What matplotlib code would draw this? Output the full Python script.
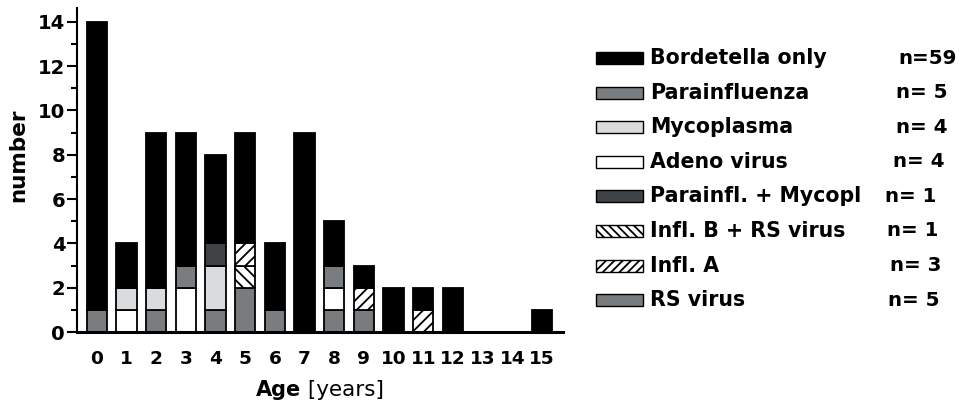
import matplotlib
matplotlib.use("Agg")
import matplotlib.pyplot as plt
from matplotlib.patches import Rectangle
from matplotlib.ticker import MultipleLocator
import numpy as np

plt.rcParams['font.family'] = ['DejaVu Sans']
plt.rcParams['hatch.linewidth'] = 1.3

ages = list(range(16))
age_labels = [str(a) for a in ages]

# counts per age, stacked bottom -> top in this order
rs_virus       = [0, 0, 0, 0, 1, 2, 0, 0, 1, 1, 0, 0, 0, 0, 0, 0]
infl_b_rs      = [0, 0, 0, 0, 0, 1, 0, 0, 0, 0, 0, 0, 0, 0, 0, 0]
infl_a         = [0, 0, 0, 0, 0, 1, 0, 0, 0, 1, 0, 1, 0, 0, 0, 0]
adeno          = [0, 1, 0, 2, 0, 0, 0, 0, 1, 0, 0, 0, 0, 0, 0, 0]
parainfluenza  = [1, 0, 1, 1, 0, 0, 1, 0, 1, 0, 0, 0, 0, 0, 0, 0]
mycoplasma     = [0, 1, 1, 0, 2, 0, 0, 0, 0, 0, 0, 0, 0, 0, 0, 0]
parainfl_myco  = [0, 0, 0, 0, 1, 0, 0, 0, 0, 0, 0, 0, 0, 0, 0, 0]
bordetella     = [13, 2, 7, 6, 4, 5, 3, 9, 2, 1, 2, 1, 2, 0, 0, 1]

GRAY = '#787c7e'
series = [
    # (values, face, hatch)
    (rs_virus,      GRAY,      None),
    (infl_b_rs,     'white',   '\\\\\\'),
    (infl_a,        'white',   '///'),
    (adeno,         'white',   None),
    (parainfluenza, '#7a7d80', None),
    (mycoplasma,    '#d9dcde', None),
    (parainfl_myco, '#3f4345', None),
    (bordetella,    'black',   None),
]

# legend entries, top -> bottom
legend_labels = ['Bordetella only', 'Parainfluenza', 'Mycoplasma', 'Adeno virus',
                 'Parainfl. + Mycopl', 'Infl. B + RS virus', 'Infl. A', 'RS virus']
legend_counts = ['n=59', 'n= 5', 'n= 4', 'n= 4', 'n= 1', 'n= 1', 'n= 3', 'n= 5']
legend_style = [('black', None), ('#7a7d80', None), ('#d9dcde', None), ('white', None),
                ('#3f4345', None), ('white', '\\\\\\\\'), ('white', '////'), (GRAY, None)]

W, H = 966, 408
fig = plt.figure(figsize=(W / 100, H / 100), dpi=100)
ax = fig.add_axes([77 / W, 1 - 332 / H, (563 - 77) / W, (332 - 8) / H])

bottom = np.zeros(len(ages))
for vals, face, hatch in series:
    v = np.array(vals, dtype=float)
    ax.bar(ages, v, width=0.69, bottom=bottom, color=face, edgecolor='black',
           linewidth=1.3, hatch=hatch, zorder=2)
    bottom += v

ax.set_xlim(-0.67, 15.71)
ax.set_ylim(0, 14.62)
for s in ['top', 'right']:
    ax.spines[s].set_visible(False)
ax.spines['left'].set_linewidth(1.5)
ax.spines['bottom'].set_linewidth(2.2)
ax.spines['bottom'].set_zorder(3)

ax.set_xticks(ages)
ax.set_xticklabels(age_labels, fontsize=13.3, fontweight='bold')
ax.tick_params(axis='x', length=0, pad=13)
ax.yaxis.set_major_locator(MultipleLocator(2))
ax.yaxis.set_minor_locator(MultipleLocator(1))
ax.tick_params(axis='y', which='major', length=7, width=1.5, pad=1.5,
               labelsize=14.1)
ax.tick_params(axis='y', which='minor', length=4, width=1.5)
for lbl in ax.get_yticklabels():
    lbl.set_fontweight('bold')

fig.text(18 / W, 1 - 155 / H, 'number', rotation=90, fontsize=15.5,
         fontweight='bold', ha='center', va='center')

# x-axis title: bold word followed by regular unit
fig.canvas.draw()
r = fig.canvas.get_renderer()
t1 = fig.text(0, 1 - 390 / H, 'Age', fontsize=15, fontweight='bold', va='center')
t2 = fig.text(0, 1 - 390 / H, ' [years]', fontsize=15.5, va='center')
w1 = t1.get_window_extent(r).width
w2 = t2.get_window_extent(r).width
x0 = 320 - (w1 + w2) / 2
t1.set_x(x0 / W)
t2.set_x((x0 + w1) / W)

# legend
row_y0, row_dy = 58, 34.6
count_x = [898, 896, 896, 893, 885, 887, 890, 888]
for i, (lab, cnt, (face, hatch)) in enumerate(zip(legend_labels, legend_counts, legend_style)):
    yc = row_y0 + i * row_dy
    fig.patches.append(Rectangle((596 / W, 1 - (yc + 6) / H), 47 / W, 12 / H,
                                 transform=fig.transFigure, facecolor=face,
                                 edgecolor='black', linewidth=1.0, hatch=hatch))
    fig.text(650 / W, 1 - yc / H, lab, fontsize=14.8, fontweight='bold',
             ha='left', va='center')
    fig.text(count_x[i] / W, 1 - yc / H, cnt, fontsize=14.3, fontweight='bold',
             ha='left', va='center')

fig.savefig('out.png', dpi=100)
